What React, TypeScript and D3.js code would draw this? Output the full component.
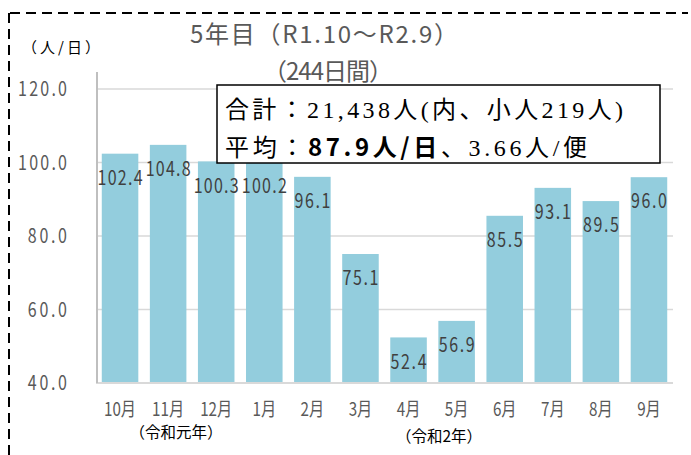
import React from 'react';
import * as d3 from 'd3';

// canvas
const width = 691;
const height = 455;

// data
const months = ['10月', '11月', '12月', '1月', '2月', '3月', '4月', '5月', '6月', '7月', '8月', '9月'];
const riders = [102.4, 104.8, 100.3, 100.2, 96.1, 75.1, 52.4, 56.9, 85.5, 93.1, 89.5, 96.0];
const yTicks = [40, 60, 80, 100, 120];

// plot area
const plotLeft = 96;
const plotRight = 673;
const plotTop = 89;
const plotBottom = 383;

// colours
const barColor = '#93CDDD';
const gridColor = '#D9D9D9';
const axisColor = '#BFBFBF';
const labelColor = '#595959';
const valueColor = '#404040';

const gothic = '"Noto Sans CJK JP", sans-serif';
const mincho = '"Liberation Serif", "Noto Sans CJK JP", serif';

// the original uses a tall, narrow gothic face: squeeze Noto horizontally
const squeeze = 0.8;

const x = d3
  .scaleBand<string>()
  .domain(months)
  .range([plotLeft, plotRight])
  .paddingInner(0.24)
  .paddingOuter(0.12);

const y = d3.scaleLinear().domain([40, 120]).range([plotBottom, plotTop]);

type NarrowProps = {
  x: number;
  y: number;
  size: number;
  fill: string;
  anchor?: string;
  length?: number; // on-screen width, px
  children: React.ReactNode;
};

const Narrow = ({ x, y, size, fill, anchor = 'middle', length, children }: NarrowProps) => (
  <text
    transform={`translate(${x},${y}) scale(${squeeze},1)`}
    dy="0.36em"
    textAnchor={anchor}
    fontFamily={gothic}
    fontSize={size}
    fill={fill}
    textLength={length ? length / squeeze : undefined}
    lengthAdjust={length ? 'spacing' : undefined}
  >
    {children}
  </text>
);

const App = () => (
  <svg
    width={width}
    height={height}
    style={{ position: 'absolute', left: 0, top: 0, background: '#fff' }}
  >
    {/* dashed frame */}
    <line x1={10} y1={13} x2={688} y2={13} stroke="#000" strokeWidth={2} strokeDasharray="10,6" />
    <line x1={9} y1={13} x2={9} y2={455} stroke="#000" strokeWidth={2} strokeDasharray="10,6" />

    {/* title */}
    <text x={324} y={34} dy="0.36em" textAnchor="middle" fontFamily={gothic} fontSize={24} fill={labelColor}
      textLength={268} lengthAdjust="spacing">
      5年目（R1.10～R2.9）
    </text>
    <text x={328} y={71} dy="0.36em" textAnchor="middle" fontFamily={gothic} fontSize={24} fill={labelColor}
      textLength={130} lengthAdjust="spacing">
      （244日間）
    </text>

    {/* unit */}
    <text x={22} y={53} fontFamily={gothic} fontSize={15} fill="#000" textLength={78} lengthAdjust="spacing">
      （人/日）
    </text>

    {/* grid + y labels */}
    {yTicks.map((t) => {
      const label = t.toFixed(1);
      return (
        <g key={t}>
          {t > 40 && (
            <line x1={plotLeft} x2={plotRight} y1={y(t)} y2={y(t)} stroke={gridColor} strokeWidth={1.5} />
          )}
          <Narrow x={67} y={y(t)} size={20} fill={labelColor} anchor="end" length={label.length * 9.8}>
            {label}
          </Narrow>
        </g>
      );
    })}

    {/* bars */}
    {riders.map((v, i) => (
      <rect key={months[i]} x={x(months[i])} y={y(v)} width={x.bandwidth()} height={plotBottom - y(v)} fill={barColor} />
    ))}

    {/* axes */}
    <line x1={plotLeft} x2={plotRight} y1={plotBottom} y2={plotBottom} stroke={gridColor} strokeWidth={2} />
    <line x1={97} x2={97} y1={72} y2={plotBottom} stroke={axisColor} strokeWidth={2} />

    {/* value labels */}
    {riders.map((v, i) => {
      const label = v.toFixed(1);
      return (
        <Narrow key={'v' + i} x={(x(months[i]) as number) + x.bandwidth() / 2} y={y(v) + 24} size={20}
          fill={valueColor} length={label.length * 9}>
          {label}
        </Narrow>
      );
    })}

    {/* month labels */}
    {months.map((m) => (
      <Narrow key={m} x={(x(m) as number) + x.bandwidth() / 2} y={409} size={19} fill={labelColor}>
        {m}
      </Narrow>
    ))}
    <text x={176} y={433} dy="0.35em" textAnchor="middle" fontFamily={gothic} fontSize={15.5} fill="#000">
      （令和元年）
    </text>
    <text x={439} y={437} dy="0.35em" textAnchor="middle" fontFamily={gothic} fontSize={15.5} fill="#000">
      （令和2年）
    </text>

    {/* summary box */}
    <rect x={217} y={85} width={443} height={78} fill="#fff" stroke="#000" strokeWidth={1.5} />
    <text x={225} y={118} fontFamily={mincho} fontSize={24} fill="#000" textLength={398}
      lengthAdjust="spacing">
      合計：21,438人(内、小人219人)
    </text>
    <text x={225} y={156} fontFamily={mincho} fontSize={24} fill="#000" textLength={362}
      lengthAdjust="spacing">
      平均：
      <tspan fontFamily={gothic} fontWeight="bold">87.9人/日</tspan>
      、3.66人/便
    </text>
  </svg>
);

export default App;
